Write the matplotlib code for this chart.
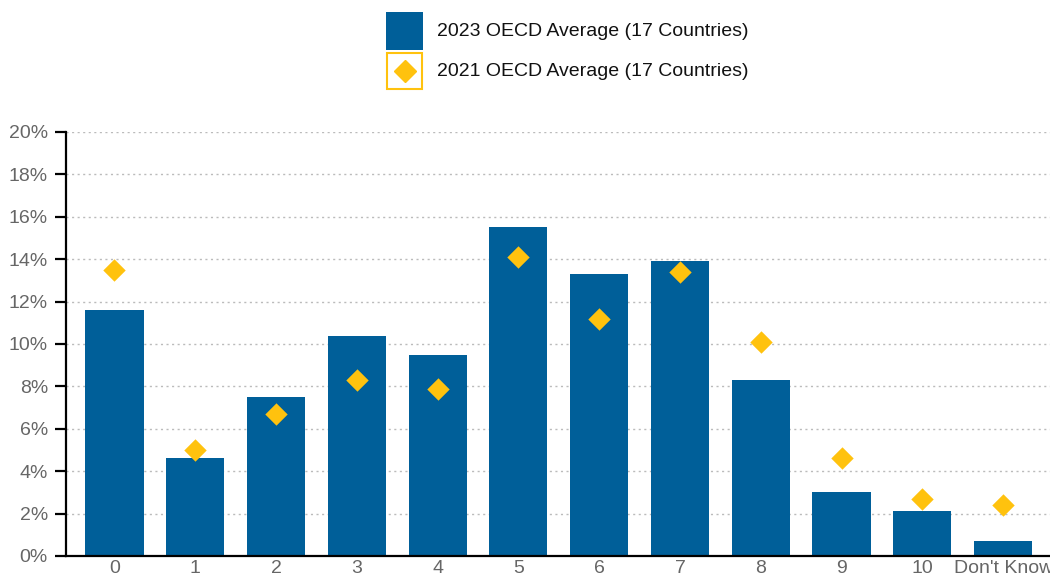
import matplotlib.pyplot as plt
from matplotlib.patches import Rectangle
from matplotlib.lines import Line2D
import numpy as np

categories = ['0', '1', '2', '3', '4', '5', '6', '7', '8', '9', '10', "Don't Know"]
avg_2023 = [11.6, 4.6, 7.5, 10.4, 9.5, 15.5, 13.3, 13.9, 8.3, 3.0, 2.1, 0.7]
avg_2021 = [13.5, 5.0, 6.7, 8.3, 7.9, 14.1, 11.2, 13.4, 10.1, 4.6, 2.7, 2.4]
yticks = [0, 2, 4, 6, 8, 10, 12, 14, 16, 18, 20]

blue = '#005f99'
gold = '#ffc20e'
grey = '#666666'

plt.rcParams['font.family'] = ['Liberation Sans Narrow', 'Liberation Sans', 'DejaVu Sans']

fig = plt.figure(figsize=(10.5, 5.76), dpi=100)
ax = fig.add_axes([66 / 1050, 20 / 576, 1 - 66 / 1050, (556 - 132) / 576])

x = np.arange(len(categories))
ax.bar(x, avg_2023, width=0.72, color=blue, zorder=2)
ax.scatter(x, avg_2021, marker='D', s=130, color=gold, zorder=3, linewidths=0)

ax.set_xlim(-0.6, 11.58)
ax.set_ylim(0, 20)
ax.set_yticks(yticks)
ax.set_yticklabels([f'{v}%' for v in yticks])
ax.set_xticks(x)
ax.set_xticklabels(categories)

ax.yaxis.grid(True, linestyle=(0, (1.5, 2.5)), color='#bbbbbb', linewidth=1, zorder=1)
ax.set_axisbelow(True)
for s in ['top', 'right']:
    ax.spines[s].set_visible(False)
ax.spines['left'].set_linewidth(1.6)
ax.spines['bottom'].set_linewidth(1.6)
ax.tick_params(axis='y', length=8, width=1.6, color='black', labelsize=14, labelcolor=grey, pad=5)
ax.tick_params(axis='x', length=0, labelsize=14, labelcolor=grey, pad=3)

# legend drawn by hand at top centre
fig.add_artist(Rectangle((386 / 1050, 1 - 50 / 576), 37 / 1050, 38 / 576,
                         transform=fig.transFigure, facecolor=blue, edgecolor='none'))
fig.add_artist(Rectangle((387 / 1050, 1 - 89 / 576), 35 / 1050, 36 / 576,
                         transform=fig.transFigure, facecolor='white', edgecolor=gold, linewidth=1.5))
fig.add_artist(Line2D([404.5 / 1050], [1 - 71 / 576], transform=fig.transFigure,
                      marker='D', markersize=11, color=gold, linestyle='none'))
fig.text(437 / 1050, 1 - 31 / 576, '2023 OECD Average (17 Countries)', fontsize=14,
         va='center', ha='left', color='#111111')
fig.text(437 / 1050, 1 - 71 / 576, '2021 OECD Average (17 Countries)', fontsize=14,
         va='center', ha='left', color='#111111')

fig.savefig('out.png', dpi=100)
